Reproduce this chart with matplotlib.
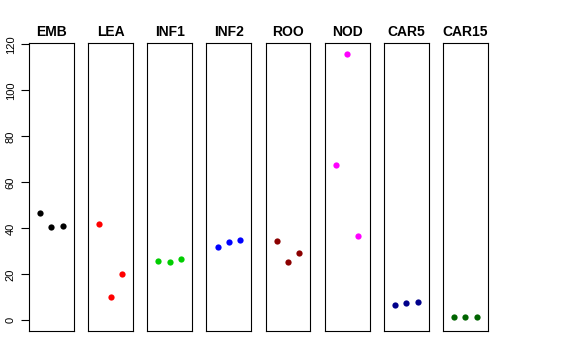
import numpy as np
import matplotlib
matplotlib.use('Agg')
import matplotlib.pyplot as plt

plt.rcParams['font.family'] = ['Liberation Sans', 'DejaVu Sans']

tissues = ['EMB', 'LEA', 'INF1', 'INF2', 'ROO', 'NOD', 'CAR5', 'CAR15']
colors = ['#000000', '#FF0000', '#00CD00', '#0000FF', '#8B0000', '#FF00FF', '#00008B', '#006400']
emb = [46.5, 40.7, 41.1]
lea = [41.7, 10.1, 20.0]
inf1 = [25.8, 25.5, 26.5]
inf2 = [32.0, 34.3, 34.8]
roo = [34.5, 25.5, 29.3]
nod = [67.5, 115.9, 36.5]
car5 = [6.8, 7.7, 8.1]
car15 = [1.4, 1.3, 1.5]
values = [emb, lea, inf1, inf2, roo, nod, car5, car15]
reps = [1, 2, 3]

fig, axes = plt.subplots(1, 8, figsize=(5.76, 3.6), dpi=100, sharey=True)
fig.subplots_adjust(left=0.0503, right=0.847, bottom=0.0806, top=0.8806, wspace=0.316)

for i, ax in enumerate(axes):
    ax.plot(reps, values[i], 'o', color=colors[i], markersize=4.5, markeredgewidth=0)
    ax.set_xlim(0, 4)
    ax.set_ylim(-4.6, 120.6)
    ax.set_xticks([])
    ax.set_title(tissues[i], fontsize=10, fontweight='bold', pad=5)
    for s in ax.spines.values():
        s.set_linewidth(0.8)
    if i == 0:
        ax.set_yticks([0, 20, 40, 60, 80, 100, 120])
        ax.tick_params(axis='y', length=5.5, width=0.8, pad=4, labelsize=8)
        for lab in ax.get_yticklabels():
            lab.set_rotation(90)
            lab.set_va('center')
    else:
        ax.tick_params(axis='y', left=False, labelleft=False)

fig.savefig('out.png')
